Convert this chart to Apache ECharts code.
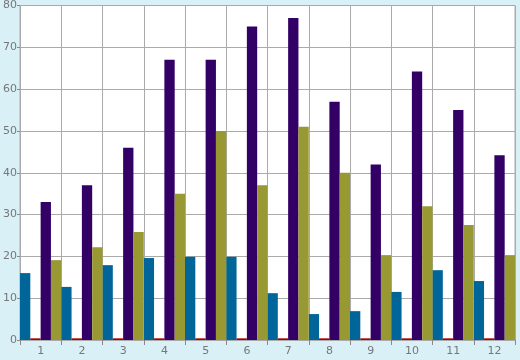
<!DOCTYPE html>
<html><head><meta charset="utf-8">
<script src="https://cdn.jsdelivr.net/npm/echarts@6/dist/echarts.min.js"></script>
<style>html,body{margin:0;padding:0;background:#d9f0f7;}#c{width:520px;height:360px;}</style>
</head><body><div id="c"></div>
<script>
var categories = ['1','2','3','4','5','6','7','8','9','10','11','12'];
var blueVals = [16, 12.7, 17.9, 19.6, 19.9, 19.9, 11.2, 6.2, 6.9, 11.5, 16.7, 14.1];
var redVals = [0.4, 0.4, 0.4, 0.4, 0.4, 0.4, 0.4, 0.4, 0.4, 0.4, 0.4, 0.4];
var purpleVals = [33, 37, 46, 67, 67, 75, 77, 57, 42, 64.2, 55, 44.2];
var oliveVals = [19.1, 22.2, 25.8, 35, 50, 37, 51, 40, 20.3, 32, 27.5, 20.3];
var yTicks = [0, 10, 20, 30, 40, 50, 60, 70, 80];

var chart = echarts.init(document.getElementById('c'), null, {renderer: 'canvas'});
var font = {color: '#777', fontFamily: 'DejaVu Sans', fontSize: 11};
function bar(data, color) {
  return {type: 'bar', data: data, barGap: '0%', barCategoryGap: '0%',
    itemStyle: {color: color, borderWidth: 0, borderColor: color},
    emphasis: {disabled: true}};
}
chart.setOption({
  animation: false,
  backgroundColor: '#d9f0f7',
  grid: {left: 20, right: 5, top: 5, bottom: 20, show: true, backgroundColor: '#ffffff', borderColor: '#aaaaaa', borderWidth: 1},
  xAxis: {
    type: 'category', data: categories, boundaryGap: true,
    axisLine: {lineStyle: {color: '#aaaaaa'}},
    axisTick: {show: true, length: 5, lineStyle: {color: '#888'}},
    splitLine: {show: true, lineStyle: {color: '#aaaaaa', width: 1}},
    axisLabel: Object.assign({margin: 6}, font)
  },
  yAxis: {
    type: 'value', min: yTicks[0], max: yTicks[yTicks.length-1], interval: 10,
    axisLine: {show: true, lineStyle: {color: '#aaaaaa'}},
    axisTick: {show: true, length: 3, lineStyle: {color: '#888'}},
    splitLine: {show: true, lineStyle: {color: '#aaaaaa', width: 1}},
    axisLabel: Object.assign({margin: 3}, font)
  },
  series: [
    bar(blueVals, '#006699'),
    bar(redVals, '#aa0000'),
    bar(purpleVals, '#330066'),
    bar(oliveVals, '#999933')
  ]
});
</script></body></html>
